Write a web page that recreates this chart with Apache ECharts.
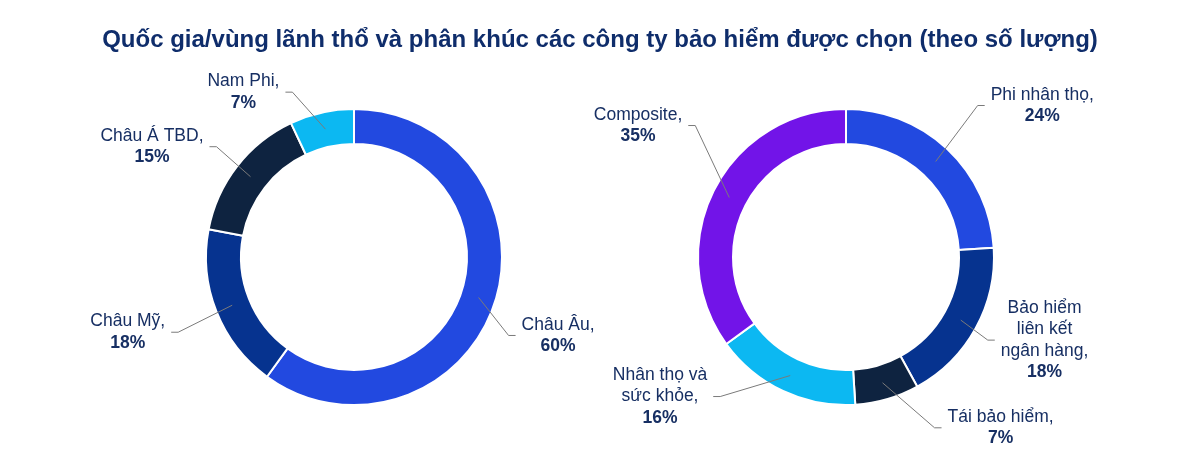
<!DOCTYPE html>
<html style="height: 100%">
<head>
    <meta charset="utf-8" />
    <title>Quốc gia/vùng lãnh thổ và phân khúc</title>
    <script type="text/javascript" src="https://cdn.jsdelivr.net/npm/echarts@6/dist/echarts.min.js"></script>
</head>
<body style="height: 100%; margin: 0; background: #fff">
    <div id="container" style="width: 1200px; height: 464px"></div>
</body>
</html>
<script type="text/javascript">
    // du lieu
    var regionNames = ['Châu Âu', 'Châu Mỹ', 'Châu Á TBD', 'Nam Phi'];
    var regionValues = [60, 18, 15, 7];
    var segmentNames = ['Phi nhân thọ', 'Bảo hiểm\nliên kết\nngân hàng', 'Tái bảo hiểm', 'Nhân thọ và\nsức khỏe', 'Composite'];
    var segmentValues = [24, 18, 7, 16, 35];

    var regionColors = ['#2249e0', '#06338f', '#0e2340', '#0cb8f2'];
    var segmentColors = ['#2249e0', '#06338f', '#0e2340', '#0cb8f2', '#7214e8'];

    // duong dan nhan: lech diem gap so voi diem neo
    var regionElbows = [[30, 38], [-54, 27], [-34, -30], [-33, -37]];
    var segmentElbows = [[42, -56], [27, 20], [52, 45], [-70, 21], [-34, -72]];

    var centers = [[354, 257], [846, 257]];
    var anchorR = 131;
    var font = "'Liberation Sans', Arial, sans-serif";
    var textColor = '#172f63';

    var allValues = [regionValues, segmentValues];
    var allElbows = [regionElbows, segmentElbows];

    // series 2,3 la lop phu trong suot chi de ve nhan + duong dan len tren vong
    function layoutLabel(params) {
        var k = params.seriesIndex - 2;
        var vals = allValues[k];
        var c = centers[k];
        var total = vals.reduce(function (a, b) { return a + b; }, 0);
        var before = 0;
        for (var i = 0; i < params.dataIndex; i++) before += vals[i];
        var frac = (before + vals[params.dataIndex] / 2) / total;
        var a = frac * Math.PI * 2;
        var p0 = [c[0] + anchorR * Math.sin(a), c[1] - anchorR * Math.cos(a)];
        var off = allElbows[k][params.dataIndex];
        var p1 = [p0[0] + off[0], p0[1] + off[1]];
        var dir = off[0] < 0 ? -1 : 1;
        var p2 = [p1[0] + dir * 7, p1[1]];
        return {
            x: p2[0] + dir * 6,
            y: p2[1],
            align: dir < 0 ? 'right' : 'left',
            verticalAlign: 'middle',
            labelLinePoints: [p0, p1, p2]
        };
    }

    function fmt(params) {
        var lines = params.name.split('\n');
        var out = lines.map(function (l, i) {
            return '{n|' + l + (i === lines.length - 1 ? ',' : '') + '}';
        });
        out.push('{p|' + params.value + '%}');
        return out.join('\n');
    }

    function ringSeries(names, values, colors, idx) {
        return {
            type: 'pie',
            z: 2,
            center: centers[idx],
            radius: [113, 148],
            startAngle: 90,
            avoidLabelOverlap: false,
            itemStyle: { borderColor: '#fff', borderWidth: 2 },
            label: { show: false },
            labelLine: { show: false },
            emphasis: { disabled: true },
            data: names.map(function (n, i) {
                return { name: n, value: values[i], itemStyle: { color: colors[i] } };
            })
        };
    }

    function labelSeries(names, values, idx) {
        return {
            type: 'pie',
            z: 5,
            silent: true,
            center: centers[idx],
            radius: [113, 148],
            startAngle: 90,
            avoidLabelOverlap: false,
            itemStyle: { color: 'rgba(0,0,0,0)', borderWidth: 0 },
            label: {
                show: true,
                formatter: fmt,
                rich: {
                    n: { fontFamily: font, fontSize: 17.5, color: textColor, align: 'center', lineHeight: 21.5 },
                    p: { fontFamily: font, fontSize: 17.5, fontWeight: 'bold', color: textColor, align: 'center', lineHeight: 21.5 }
                }
            },
            labelLine: { show: true, length: 10, length2: 8, lineStyle: { color: '#7a7a7a', width: 1 } },
            labelLayout: layoutLabel,
            emphasis: { disabled: true },
            data: names.map(function (n, i) {
                return { name: n, value: values[i] };
            })
        };
    }

    var myChart = echarts.init(document.getElementById('container'));
    var option = {
        animation: false,
        title: {
            text: 'Quốc gia/vùng lãnh thổ và phân khúc các công ty bảo hiểm được chọn (theo số lượng)',
            left: 'center',
            top: 23,
            textStyle: { fontFamily: font, fontSize: 24, fontWeight: 'bold', color: '#0f2d6b' }
        },
        series: [
            ringSeries(regionNames, regionValues, regionColors, 0),
            ringSeries(segmentNames, segmentValues, segmentColors, 1),
            labelSeries(regionNames, regionValues, 0),
            labelSeries(segmentNames, segmentValues, 1)
        ]
    };
    myChart.setOption(option);
</script>
